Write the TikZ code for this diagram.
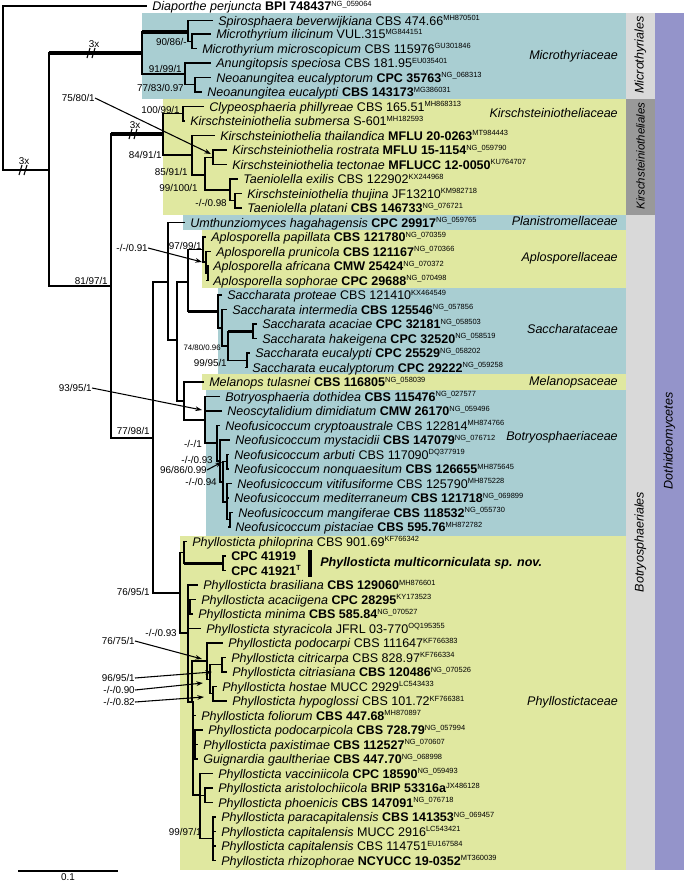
\documentclass[tikz,border=0pt]{standalone}
\usepackage{fontspec}
\setmainfont{Liberation Sans}
\usetikzlibrary{arrows.meta}
\definecolor{tealbox}{RGB}{169,206,210}
\definecolor{yelbox}{RGB}{224,232,160}
\definecolor{lgray}{RGB}{217,217,217}
\definecolor{dgray}{RGB}{153,153,153}
\definecolor{purp}{RGB}{148,148,202}
\newcommand{\sps}[1]{\raisebox{3.4pt}{\fontsize{5.6}{6}\selectfont\mdseries #1}}
\tikzset{
 br/.style={line width=0.9pt,line cap=rect},
 thk/.style={line width=2.6pt},
 leaf/.style={anchor=mid west,inner sep=0pt,yshift=-0.8pt,font=\fontsize{9.4}{11}\selectfont},
 sup/.style={anchor=mid east,inner sep=0pt,font=\fontsize{7.4}{8}\selectfont},
 fam/.style={anchor=mid east,inner sep=0pt,font=\fontsize{9.4}{11}\selectfont\itshape},
 col/.style={rotate=90,inner sep=0pt,font=\fontsize{9.4}{11}\selectfont\itshape},
 arr/.style={line width=0.8pt,-{Stealth[length=5pt,width=3.5pt]}},
}
\newcommand{\lf}[5]{\node[leaf] (#5) at (#2,#1) {#4};\draw[br] (#3,#1) -- ([xshift=-4.5pt,yshift=0.8pt]#5.mid west);}
\newcommand{\vl}[3]{\draw[br] (#1,#2) -- (#1,#3);}
\newcommand{\hl}[3]{\draw[br] (#2,#1) -- (#3,#1);}
\newcommand{\brk}[2]{\draw[line width=0.8pt] ({#1-4},{#2+5}) -- ({#1-1},{#2-5}) ({#1+1},{#2+5}) -- ({#1+4},{#2-5});}
\begin{document}
\begin{tikzpicture}[x=0.75pt,y=-0.75pt]
\useasboundingbox (0,0) rectangle (684,883);
% backgrounds
\fill[tealbox] (142,13) rectangle (626,98.5);
\fill[yelbox] (163,98.5) rectangle (626,215);
\fill[tealbox] (183,215) rectangle (626,230);
\fill[yelbox] (202,230) rectangle (626,287.5);
\fill[tealbox] (218,287.5) rectangle (626,373.5);
\fill[yelbox] (202,373.5) rectangle (626,389.5);
\fill[tealbox] (206,389.5) rectangle (626,535.5);
\fill[yelbox] (180,535.5) rectangle (626,870);
\fill[lgray] (626,13) rectangle (655,98.5);
\fill[dgray] (626,98.5) rectangle (655,215);
\fill[lgray] (626,215) rectangle (655,870);
\fill[purp] (655,13) rectangle (684,870);
% column labels
\node[col] (cMi) at (640.5,55) {Microthyriales};
\node[col,font=\fontsize{8.6}{10}\selectfont\itshape] (cKi) at (640.5,156) {Kirschsteiniotheliales};
\node[col] (cBo) at (640.5,542) {Botryosphaeriales};
\node[col] (cDo) at (669.5,441) {Dothideomycetes};
% family labels
\node[fam] (fMi) at (618,56) {Microthyriaceae};
\node[fam] (fKi) at (618,114) {Kirschsteiniotheliaceae};
\node[fam] (fPl) at (618,222) {Planistromellaceae};
\node[fam] (fAp) at (618,258) {Aplosporellaceae};
\node[fam] (fSa) at (618,330) {Saccharataceae};
\node[fam] (fMe) at (618,382) {Melanopsaceae};
\node[fam] (fBo) at (618,437) {Botryosphaeriaceae};
\node[fam] (fPh) at (618,702) {Phyllostictaceae};
% root
\vl{3}{6}{170}
\lf{6}{152}{3}{\textit{Diaporthe perjuncta} \textbf{BPI 748437}\sps{NG\_059064}}{l1}
\hl{170}{3}{49}
\node[sup,anchor=center] (x1) at (24,161) {3x}; \brk{23}{170}
\vl{49}{53}{286}
% Microthyriales
\draw[thk] (49,53) -- (142,53);
\node[sup,anchor=center] (x2) at (94,44) {3x}; \brk{91}{53}
\vl{142}{32}{73.9}
\draw[thk] (142,32) -- (188,32);
\vl{188}{20.5}{41.25}
\lf{20.5}{218}{188}{\textit{Spirosphaera beverwijkiana} CBS 474.66\sps{MH870501}}{l2}
\hl{41.25}{188}{192}\vl{192}{34}{48.5}
\lf{34}{216}{192}{\textit{Microthyrium ilicinum} VUL.315\sps{MG844151}}{l3}
\lf{48.5}{202}{192}{\textit{Microthyrium microscopicum} CBS 115976\sps{GU301846}}{l4}
\node[sup] (s1) at (187,42) {90/86/-};
\hl{73.9}{142}{185}\vl{185}{63}{84.75}
\lf{63}{216}{185}{\textit{Anungitopsis speciosa} CBS 181.95\sps{EU035401}}{l5}
\hl{84.75}{185}{195}\vl{195}{77.5}{92}
\lf{77.5}{216}{195}{\textit{Neoanungitea eucalyptorum} \textbf{CPC 35763}\sps{NG\_068313}}{l6}
\lf{92}{207}{195}{\textit{Neoanungitea eucalypti} \textbf{CBS 143173}\sps{MG386031}}{l7}
\node[sup] (s2) at (182,69) {91/99/1};
\node[sup] (s3) at (184,88) {77/83/0.97};
% backbone
\hl{286}{49}{111}\vl{111}{134}{438}
\node[sup] (s4) at (108,281) {81/97/1};
% Kirschsteiniotheliales
\draw[thk] (111,134) -- (163,134);
\node[sup,anchor=center] (x3) at (135,125) {3x}; \brk{133}{134}
\vl{163}{113.75}{155}
\hl{113.75}{163}{183}\vl{183}{106.5}{121}
\lf{106.5}{209}{183}{\textit{Clypeosphaeria phillyreae} CBS 165.51\sps{MH868313}}{l8}
\lf{121}{190}{183}{\textit{Kirschsteiniothelia submersa} S-601\sps{MH182593}}{l9}
\hl{155}{163}{192}\vl{192}{135.5}{175}
\lf{135.5}{220}{192}{\textit{Kirschsteiniothelia thailandica} \textbf{MFLU 20-0263}\sps{MT984443}}{l10}
\hl{175}{192}{205}\vl{205}{157.25}{190}
\hl{157.25}{205}{213}\vl{213}{150}{164.5}
\lf{150}{232}{213}{\textit{Kirschsteiniothelia rostrata} \textbf{MFLU 15-1154}\sps{NG\_059790}}{l11}
\lf{164.5}{232}{213}{\textit{Kirschsteiniothelia tectonae} \textbf{MFLUCC 12-0050}\sps{KU764707}}{l12}
\hl{190}{205}{230}\vl{230}{179}{200.75}
\lf{179}{243}{230}{\textit{Taeniolella exilis} CBS 122902\sps{KX244968}}{l13}
\hl{200.75}{230}{235}\vl{235}{193.5}{208}
\lf{193.5}{247}{235}{\textit{Kirschsteiniothelia thujina} JF13210\sps{KM982718}}{l14}
\lf{208}{247}{235}{\textit{Taeniolella platani} \textbf{CBS 146733}\sps{NG\_076721}}{l15}
\node[sup] (s5) at (95,98) {75/80/1};
\draw[arr] (s5.east) -- (211,154);
\node[sup] (s6) at (180,110) {100/99/1};
\node[sup] (s7) at (162,155) {84/91/1};
\node[sup] (s8) at (188,172) {85/91/1};
\node[sup] (s9) at (198,188) {99/100/1};
\node[sup] (s10) at (227,203) {-/-/0.98};
% Botryosphaeriales
\hl{438}{111}{153}\vl{153}{282}{593}
\node[sup] (s11) at (150,431) {77/98/1};
\hl{282}{153}{168}\vl{168}{222.5}{340}
\lf{222.5}{190}{168}{\textit{Umthunziomyces hagahagensis} \textbf{CPC 29917}\sps{NG\_059765}}{l16}
\hl{340}{168}{177}\vl{177}{282}{401}
\hl{282}{177}{188}\vl{188}{249.5}{311.5}
% Aplosporella
\hl{249.5}{188}{203}\vl{203}{237}{262}
\lf{237}{211}{203}{\textit{Aplosporella papillata} \textbf{CBS 121780}\sps{NG\_070359}}{l17}
\hl{262}{203}{206}\vl{206}{251.5}{273.25}
\lf{251.5}{216}{206}{\textit{Aplosporella prunicola} \textbf{CBS 121167}\sps{NG\_070366}}{l18}
\hl{273.25}{206}{208}\vl{208}{266}{280.5}
\lf{266}{213}{208}{\textit{Aplosporella africana} \textbf{CMW 25424}\sps{NG\_070372}}{l19}
\lf{280.5}{213}{208}{\textit{Aplosporella sophorae} \textbf{CPC 29688}\sps{NG\_070498}}{l20}
\node[sup] (s12) at (148,248) {-/-/0.91};
\draw[arr] (s12.east) -- (202,262);
\node[sup] (s13) at (202,246) {97/99/1};
% Saccharata
\draw[thk] (188,311.5) -- (218,311.5);
\vl{218}{295}{328}
\lf{295}{227}{218}{\textit{Saccharata proteae} CBS 121410\sps{KX464549}}{l21}
\hl{328}{218}{222}\vl{222}{309.5}{346}
\lf{309.5}{232}{222}{\textit{Saccharata intermedia} \textbf{CBS 125546}\sps{NG\_057856}}{l22}
\hl{346}{222}{228}\vl{228}{331.25}{360.25}
\draw[thk] (228,331.25) -- (253,331.25);
\vl{253}{324}{338.5}
\lf{324}{262}{253}{\textit{Saccharata acaciae} \textbf{CPC 32181}\sps{NG\_058503}}{l23}
\lf{338.5}{262}{253}{\textit{Saccharata hakeigena} \textbf{CPC 32520}\sps{NG\_058519}}{l24}
\hl{360.25}{228}{247}\vl{247}{353}{367.5}
\lf{353}{255}{247}{\textit{Saccharata eucalypti} \textbf{CPC 25529}\sps{NG\_058202}}{l25}
\lf{367.5}{252}{247}{\textit{Saccharata eucalyptorum} \textbf{CPC 29222}\sps{NG\_059258}}{l26}
\node[sup,font=\fontsize{5.9}{7}\selectfont] (s14) at (221,347) {74/80/0.96};
\node[sup] (s15) at (227,363) {99/95/1};
% Melanops + Botryosphaeriaceae
\hl{401}{177}{184}\vl{184}{382}{420}
\lf{382}{209}{184}{\textit{Melanops tulasnei} \textbf{CBS 116805}\sps{NG\_058039}}{l27}
\hl{420}{184}{205}\vl{205}{396.5}{443}
\lf{396.5}{225}{205}{\textit{Botryosphaeria dothidea} \textbf{CBS 115476}\sps{NG\_027577}}{l28}
\lf{411}{227}{205}{\textit{Neoscytalidium dimidiatum} \textbf{CMW 26170}\sps{NG\_059496}}{l29}
\node[sup] (s16) at (92,388) {93/95/1};
\draw[arr] (s16.east) -- (202,410);
\hl{443}{205}{217}\vl{217}{425.5}{461}
\lf{425.5}{225}{217}{\textit{Neofusicoccum cryptoaustrale} CBS 122814\sps{MH874766}}{l30}
\hl{461}{217}{220}\vl{220}{440}{482}
\lf{440}{235}{220}{\textit{Neofusicoccum mystacidii} \textbf{CBS 147079}\sps{NG\_076712}}{l31}
\hl{482}{220}{223}\vl{223}{461.75}{502}
\hl{461.75}{223}{227}\vl{227}{454.5}{469}
\lf{454.5}{234}{227}{\textit{Neofusicoccum arbuti} CBS 117090\sps{DQ377919}}{l32}
\lf{469}{234}{227}{\textit{Neofusicoccum nonquaesitum} \textbf{CBS 126655}\sps{MH875645}}{l33}
\hl{502}{223}{227}\vl{227}{483.5}{519.75}
\lf{483.5}{237}{227}{\textit{Neofusicoccum vitifusiforme} CBS 125790\sps{MH875228}}{l34}
\lf{498}{234}{227}{\textit{Neofusicoccum mediterraneum} \textbf{CBS 121718}\sps{NG\_069899}}{l35}
\hl{519.75}{227}{230}\vl{230}{512.5}{527}
\lf{512.5}{238}{230}{\textit{Neofusicoccum mangiferae} \textbf{CBS 118532}\sps{NG\_055730}}{l36}
\lf{527}{235}{230}{\textit{Neofusicoccum pistaciae} \textbf{CBS 595.76}\sps{MH872782}}{l37}
\node[sup] (s17) at (202,444) {-/-/1};
\node[sup] (s18) at (213,460) {-/-/0.93};
\node[sup] (s19) at (207,470) {96/86/0.99};
\draw[arr] (s19.east) -- (222,462);
\node[sup] (s20) at (217,482) {-/-/0.94};
% Phyllostictaceae
\hl{593}{153}{180}\vl{180}{552.4}{633}
\node[sup] (s21) at (150,592) {76/95/1};
\hl{552.4}{180}{184}\vl{184}{541.5}{563.25}
\lf{541.5}{192}{184}{\textit{Phyllosticta philoprina} CBS 901.69\sps{KF766342}}{l38}
\draw[thk] (184,563.25) -- (223,563.25);
\vl{223}{556}{570.5}
\lf{556}{231}{223}{\textbf{CPC 41919}}{l39}
\lf{570.5}{231}{223}{\textbf{CPC 41921}\sps{\textbf{T}}}{l40}
\draw[line width=3pt] (310,550) -- (310,577);
\node[leaf,font=\fontsize{9.4}{11}\selectfont\bfseries\itshape] (mc) at (320,562) {Phyllosticta multicorniculata sp. nov.};
\hl{633}{180}{188}\vl{188}{585}{702}
\node[sup] (s22) at (177,633) {-/-/0.93};
\lf{585}{203}{188}{\textit{Phyllosticta brasiliana} \textbf{CBS 129060}\sps{MH876601}}{l41}
\hl{606.75}{188}{190}\vl{190}{599.5}{614}
\lf{599.5}{201}{190}{\textit{Phyllosticta acaciigena} \textbf{CPC 28295}\sps{KY173523}}{l42}
\lf{614}{198}{190}{\textit{Phyllosticta minima} \textbf{CBS 585.84}\sps{NG\_070527}}{l43}
\lf{628.5}{206}{188}{\textit{Phyllosticta styracicola} JFRL 03-770\sps{OQ195355}}{l44}
\vl{192}{661}{702}
\hl{661}{192}{207}\vl{207}{643}{679.25}
\lf{643}{228}{207}{\textit{Phyllosticta podocarpi} CBS 111647\sps{KF766383}}{l45}
\hl{679.25}{207}{210}\vl{210}{664.75}{693.75}
\hl{664.75}{210}{222}\vl{222}{657.5}{672}
\lf{657.5}{231}{222}{\textit{Phyllosticta citricarpa} CBS 828.97\sps{KF766334}}{l46}
\lf{672}{232}{222}{\textit{Phyllosticta citriasiana} \textbf{CBS 120486}\sps{NG\_070526}}{l47}
\hl{693.75}{210}{213}\vl{213}{686.5}{701}
\lf{686.5}{222}{213}{\textit{Phyllosticta hostae} MUCC 2929\sps{LC543433}}{l48}
\lf{701}{232}{213}{\textit{Phyllosticta hypoglossi} CBS 101.72\sps{KF766381}}{l49}
\hl{702}{188}{193}\vl{193}{702}{795}
\lf{715.5}{201}{193}{\textit{Phyllosticta foliorum} \textbf{CBS 447.68}\sps{MH870897}}{l50}
\hl{744.5}{193}{195}\vl{195}{730}{759}
\lf{730}{208}{195}{\textit{Phyllosticta podocarpicola} \textbf{CBS 728.79}\sps{NG\_057994}}{l51}
\lf{744.5}{203}{195}{\textit{Phyllosticta paxistimae} \textbf{CBS 112527}\sps{NG\_070607}}{l52}
\lf{759}{203}{195}{\textit{Guignardia gaultheriae} \textbf{CBS 447.70}\sps{NG\_068998}}{l53}
\hl{795}{193}{200}\vl{200}{773.5}{838.75}
\lf{773.5}{218}{200}{\textit{Phyllosticta vacciniicola} \textbf{CPC 18590}\sps{NG\_059493}}{l54}
\hl{795.25}{200}{205}\vl{205}{788}{802.5}
\lf{788}{218}{205}{\textit{Phyllosticta aristolochiicola} \textbf{BRIP 53316a}\sps{JX486128}}{l55}
\lf{802.5}{218}{205}{\textit{Phyllosticta phoenicis} \textbf{CBS 147091}\sps{NG\_076718}}{l56}
\hl{838.75}{200}{213}\vl{213}{817}{860.5}
\lf{817}{221}{213}{\textit{Phyllosticta paracapitalensis} \textbf{CBS 141353}\sps{NG\_069457}}{l57}
\lf{831.5}{221}{213}{\textit{Phyllosticta capitalensis} MUCC 2916\sps{LC543421}}{l58}
\lf{846}{221}{213}{\textit{Phyllosticta capitalensis} CBS 114751\sps{EU167584}}{l59}
\lf{860.5}{221}{213}{\textit{Phyllosticta rhizophorae} \textbf{NCYUCC 19-0352}\sps{MT360039}}{l60}
\node[sup] (s23) at (135,641) {76/75/1};
\draw[arr] (s23.east) -- (202,659);
\node[sup] (s24) at (135,678) {96/95/1};
\draw[arr] (s24.east) -- (212,672);
\node[sup] (s25) at (135,690) {-/-/0.90};
\draw[arr] (s25.east) -- (203,683);
\node[sup] (s26) at (135,702) {-/-/0.82};
\draw[arr] (s26.east) -- (204,697);
\node[sup] (s27) at (202,832) {99/97/1};
% scale bar
\coordinate (sb1) at (18,871); \coordinate (sb2) at (118,871);
\draw[br,line cap=butt] (sb1) -- (sb2);
\node[sup,anchor=center] (sbl) at (68,877.5) {0.1};
\end{tikzpicture}
\end{document}
